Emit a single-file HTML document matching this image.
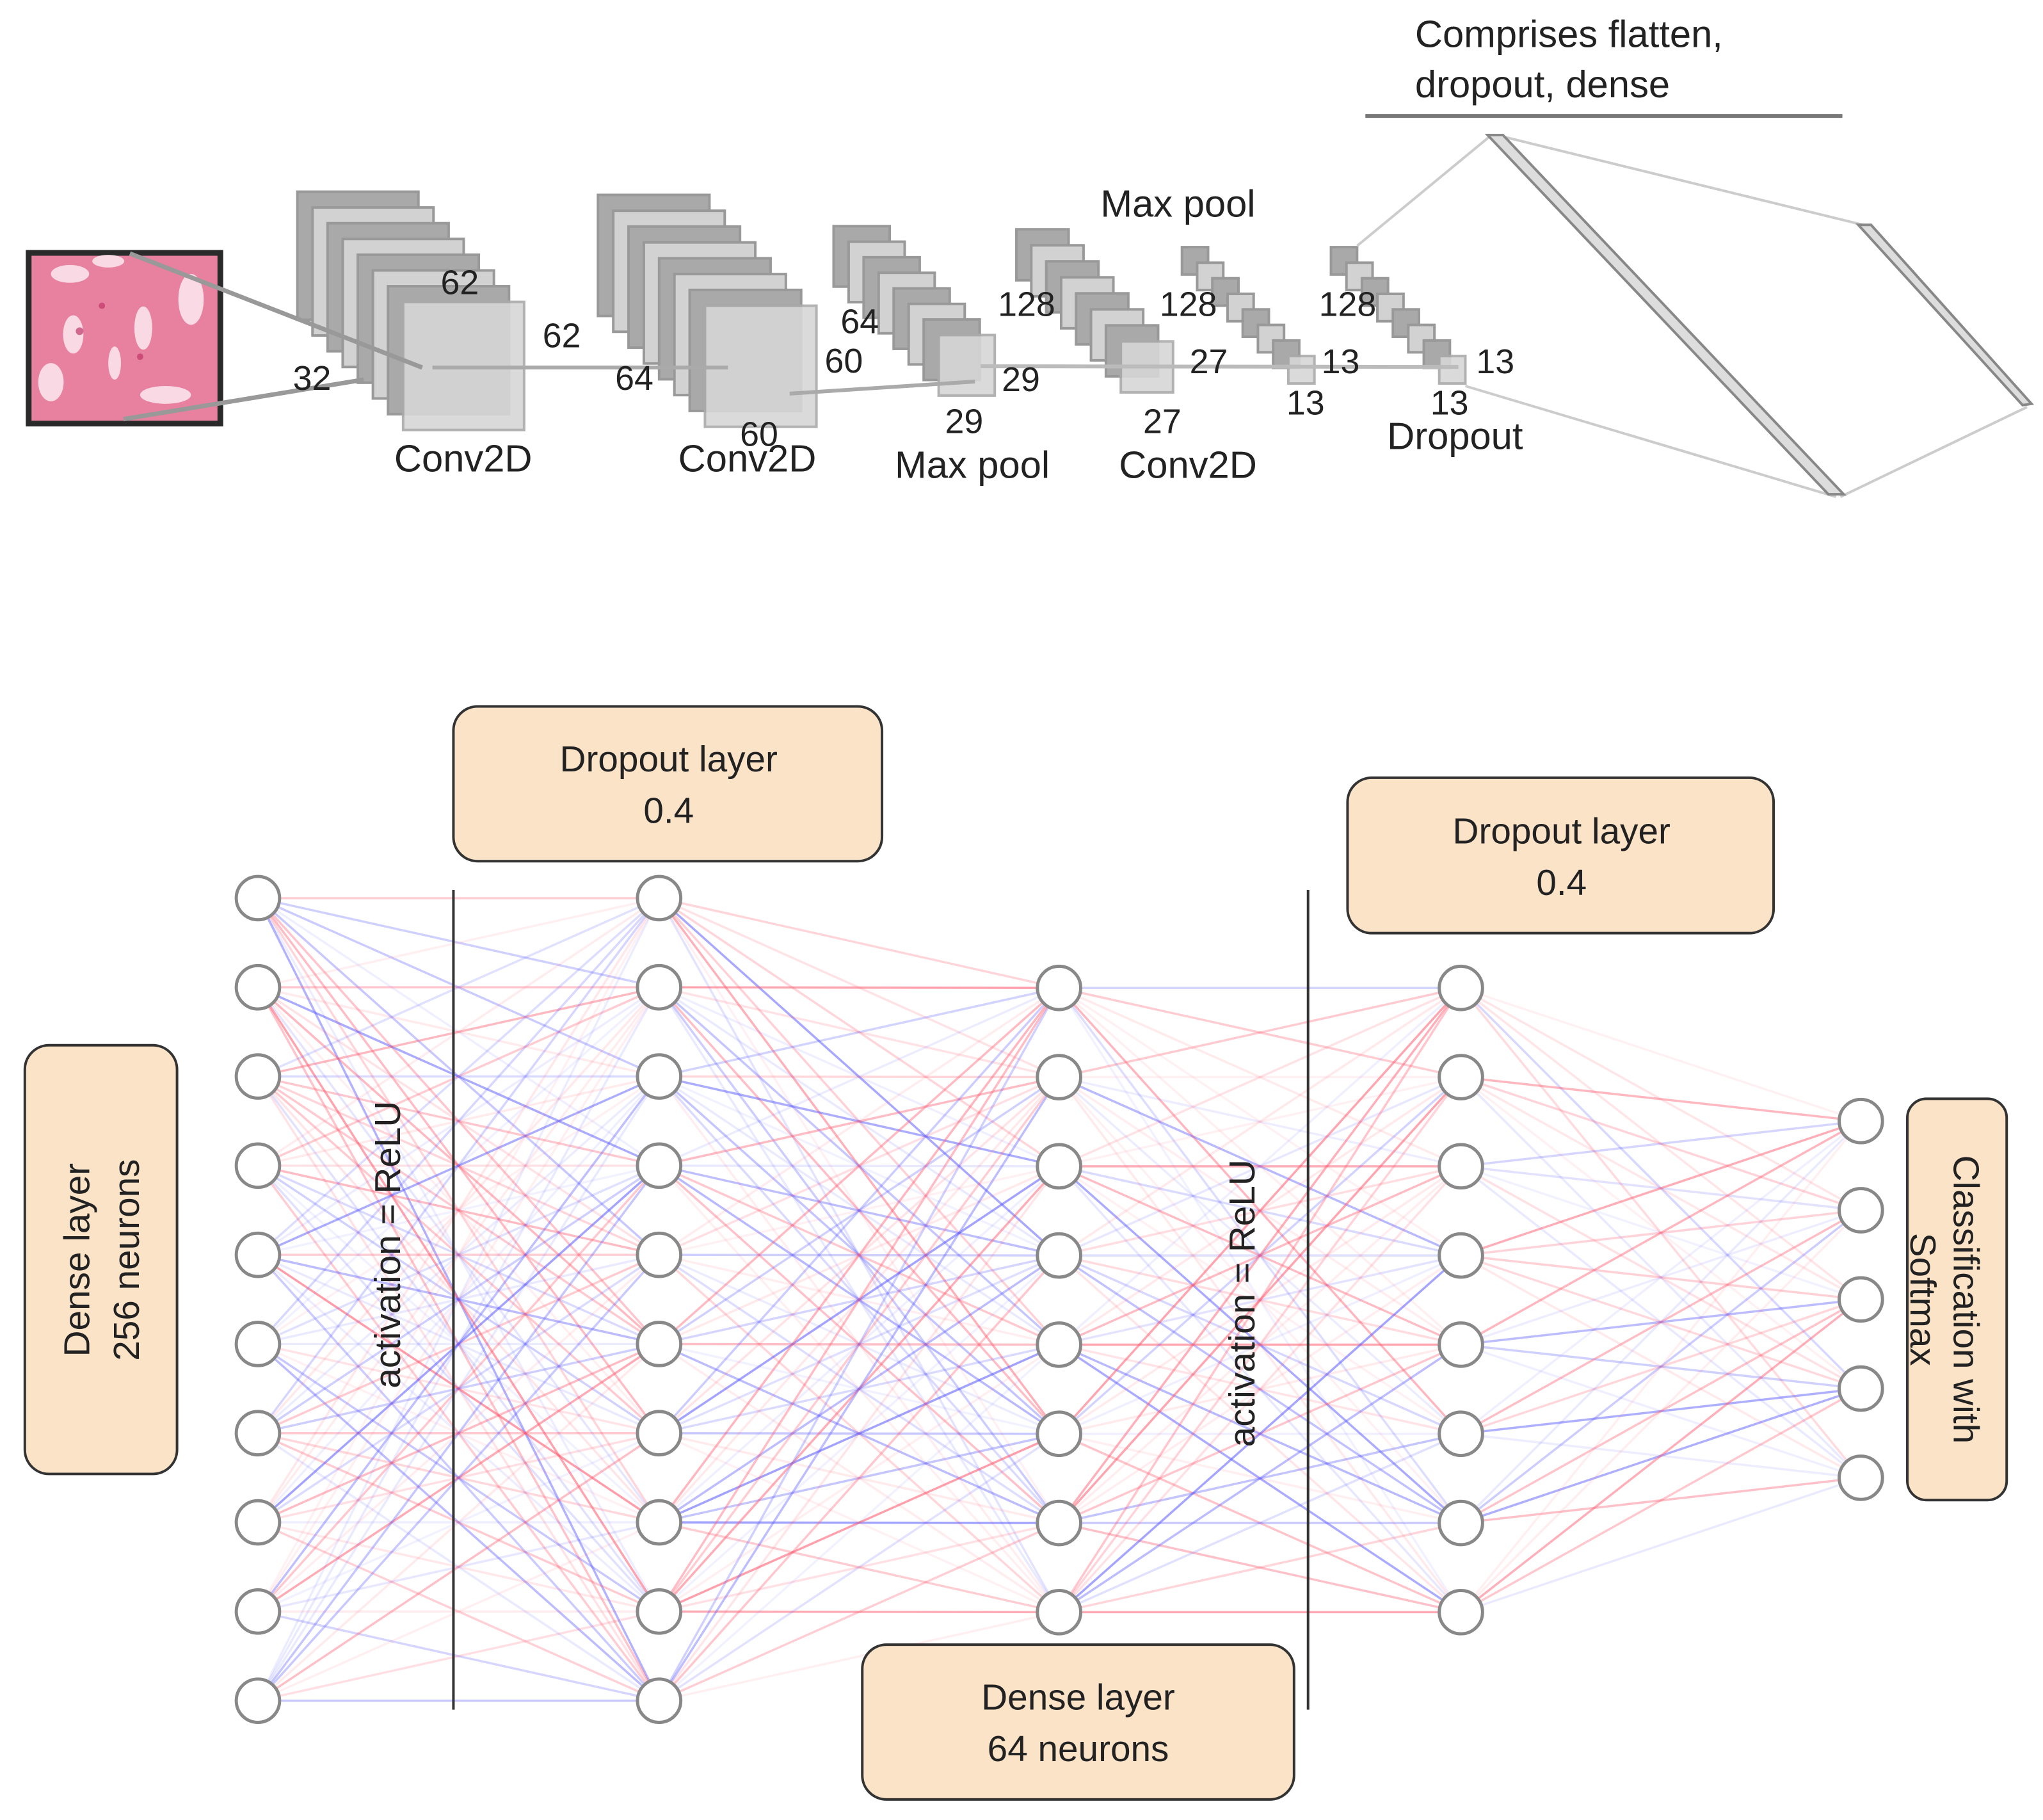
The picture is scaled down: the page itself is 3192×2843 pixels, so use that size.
<!DOCTYPE html>
<html><head><meta charset="utf-8">
<style>
html,body{margin:0;padding:0;background:#fff;}
svg{display:block;}
text{font-family:"Liberation Sans",sans-serif;}
</style></head>
<body>
<svg id="s" xmlns="http://www.w3.org/2000/svg" width="3192" height="2843" viewBox="0 0 3192 2843">
<rect width="3192" height="2843" fill="#fff"/>
<g transform="scale(0.995)">
<g id="conn"></g>
<g id="stacks"></g>
<rect x="45" y="397" width="301" height="268" fill="#e8809f" stroke="#2a2a2a" stroke-width="9"/>
<g fill="#fbe3ec" opacity="0.9">
<ellipse cx="110" cy="430" rx="30" ry="14"/><ellipse cx="170" cy="410" rx="25" ry="10"/>
<ellipse cx="115" cy="525" rx="16" ry="30"/><ellipse cx="225" cy="515" rx="14" ry="34"/>
<ellipse cx="300" cy="470" rx="20" ry="40"/><ellipse cx="80" cy="600" rx="20" ry="30"/>
<ellipse cx="260" cy="620" rx="40" ry="14"/><ellipse cx="180" cy="570" rx="10" ry="26"/>
</g>
<g fill="#c0386a" opacity="0.7"><circle cx="125" cy="520" r="6"/><circle cx="220" cy="560" r="5"/><circle cx="160" cy="480" r="5"/></g>
<line x1="204" y1="398" x2="663" y2="577" stroke="#999" stroke-width="7"/>
<line x1="194" y1="658" x2="571" y2="596" stroke="#999" stroke-width="7"/>
<line x1="679" y1="577" x2="1143" y2="577" stroke="#aaa" stroke-width="6"/>
<line x1="1240" y1="618" x2="1531" y2="599" stroke="#aaa" stroke-width="6"/>
<line x1="1540" y1="575" x2="2290" y2="576" stroke="#bbb" stroke-width="6"/>
<line x1="2131" y1="386" x2="2342" y2="212" stroke="#ccc" stroke-width="4"/>
<line x1="2350" y1="212" x2="2925" y2="353" stroke="#ccc" stroke-width="4"/>
<line x1="2301" y1="606" x2="2883" y2="780" stroke="#ccc" stroke-width="4"/>
<line x1="2890" y1="780" x2="3183" y2="639" stroke="#ccc" stroke-width="4"/>
<polygon points="2336,212 2360,212 2895,776 2871,776" fill="#ddd" stroke="#888" stroke-width="4"/>
<polygon points="2918,353 2938,353 3190,634 3176,636" fill="#ddd" stroke="#888" stroke-width="4"/>
<line x1="2144" y1="182" x2="2893" y2="182" stroke="#777" stroke-width="6"/>
<g font-size="60" fill="#222">
<text x="2222" y="74">Comprises flatten,</text>
<text x="2222" y="153">dropout, dense</text>
<text x="1728" y="340">Max pool</text>
<text x="619" y="740">Conv2D</text>
<text x="1065" y="740">Conv2D</text>
<text x="1405" y="750">Max pool</text>
<text x="1757" y="750">Conv2D</text>
<text x="2178" y="705">Dropout</text>
</g>
<g font-size="54" fill="#222" text-anchor="middle">
<text x="722" y="462">62</text><text x="882" y="545">62</text><text x="490" y="612">32</text>
<text x="996" y="612">64</text><text x="1325" y="585">60</text><text x="1192" y="700">60</text>
<text x="1350" y="523">64</text><text x="1603" y="614">29</text><text x="1514" y="680">29</text>
<text x="1612" y="496">128</text><text x="1898" y="586">27</text><text x="1825" y="680">27</text>
<text x="1866" y="496">128</text><text x="2105" y="586">13</text><text x="2050" y="651">13</text>
<text x="2116" y="496">128</text><text x="2348" y="586">13</text><text x="2276" y="651">13</text>
</g>
<g id="nn"></g>
<g fill="#fbe3c8" stroke="#333" stroke-width="4">
<rect x="712" y="1109" width="673" height="243" rx="38"/>
<rect x="2116" y="1221" width="669" height="244" rx="38"/>
<rect x="39" y="1641" width="239" height="673" rx="38"/>
<rect x="1354" y="2582" width="678" height="243" rx="38"/>
<rect x="2995" y="1725" width="156" height="630" rx="30"/>
</g>
<g font-size="57" fill="#222" text-anchor="middle">
<text x="1050" y="1211">Dropout layer</text><text x="1050" y="1292">0.4</text>
<text x="2452" y="1324">Dropout layer</text><text x="2452" y="1405">0.4</text>
<text x="1693" y="2684">Dense layer</text><text x="1693" y="2765">64 neurons</text>
<text transform="translate(140,1978) rotate(-90)">Dense layer</text>
<text transform="translate(218,1978) rotate(-90)">256 neurons</text>
<text transform="translate(3068,2040) rotate(90)">Classification with</text>
<text transform="translate(3000,2040) rotate(90)">Softmax</text>
<text transform="translate(628,1954) rotate(-90)">activation = ReLU</text>
<text transform="translate(1970,2046) rotate(-90)">activation = ReLU</text>
</g>
<line x1="712" y1="1397" x2="712" y2="2684" stroke="#333" stroke-width="4"/>
<line x1="2054" y1="1397" x2="2054" y2="2684" stroke="#333" stroke-width="4"/>
</g>
</svg>
<script>
var NS="http://www.w3.org/2000/svg";
function el(p,t,a){var e=document.createElementNS(NS,t);for(var k in a)e.setAttribute(k,a[k]);p.appendChild(e);return e;}
var seed=12345;function rnd(){seed=(seed*1103515245+12345)%2147483648;return seed/2147483648;}
var st=document.getElementById('stacks');
function stack(x0,y0,x1,y1,w,h,n){
 for(var i=0;i<n;i++){var t=i/(n-1);var x=x0+(x1-x0)*t,y=y0+(y1-y0)*t;
  var last=i==n-1;
  el(st,'rect',{x:x,y:y,width:w,height:h,fill:last?'#d6d6d6':(i%2==0?'#a9a9a9':'#d2d2d2'),stroke:last?'#aaa':'#999','stroke-width':4,opacity:last?0.9:1});}
}
stack(467,301,633,474,190,201,8);
stack(939,306,1107,480,175,190,8);
stack(1309,355,1474,526,88,95,8);
stack(1596,360,1760,536,82,80,8);
stack(1856,388,2023,559,41,43,8);
stack(2090,388,2260,559,41,43,8);
var cols=[405,1035,1663,2294,2922];
function rows(s,n){var r=[];for(var i=0;i<n;i++)r.push(s+i*140);return r;}
var L=[rows(1410,10),rows(1410,10),rows(1551,8),rows(1551,8),rows(1760,5)];
var cg=document.getElementById('conn');
for(var l=0;l<4;l++){
 var A=L[l],B=L[l+1];
 for(var i=0;i<A.length;i++)for(var j=0;j<B.length;j++){
  var r=rnd();var red=rnd()<0.5;var op=0.08+0.5*r*r;
  el(cg,'line',{x1:cols[l],y1:A[i],x2:cols[l+1],y2:B[j],stroke:red?'#ff5a6e':'#5a5aff','stroke-width':3.5,opacity:op.toFixed(2)});
 }}
var ng=document.getElementById('nn');
for(var l=0;l<5;l++)for(var i=0;i<L[l].length;i++)
 el(ng,'circle',{cx:cols[l],cy:L[l][i],r:34,fill:'#fff',stroke:'#888','stroke-width':5});
</script>
</body></html>
